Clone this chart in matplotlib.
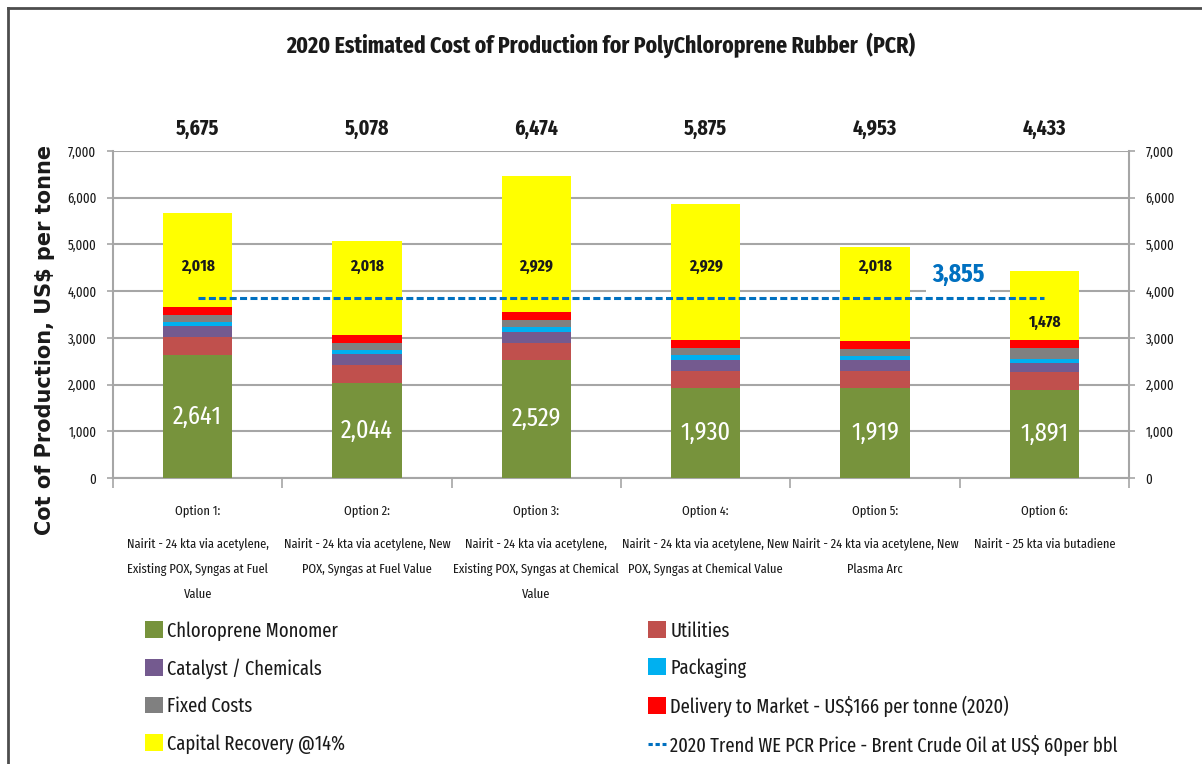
import matplotlib
matplotlib.use("Agg")
import matplotlib.pyplot as plt
import numpy as np
from matplotlib.lines import Line2D
from matplotlib.patches import Patch
from matplotlib.ticker import FuncFormatter, MultipleLocator

# ---------------------------------------------------------------- data
options = ["Option 1:", "Option 2:", "Option 3:", "Option 4:", "Option 5:", "Option 6:"]
descriptions = [
    "Nairit - 24 kta via acetylene,\nExisting POX, Syngas at Fuel\nValue",
    "Nairit - 24 kta via acetylene, New\nPOX, Syngas at Fuel Value",
    "Nairit - 24 kta via acetylene,\nExisting POX, Syngas at Chemical\nValue",
    "Nairit - 24 kta via acetylene, New\nPOX, Syngas at Chemical Value",
    "Nairit - 24 kta via acetylene, New\nPlasma Arc",
    "Nairit - 25 kta via butadiene",
]
monomer = [2641, 2044, 2529, 1930, 1919, 1891]
utilities = [370, 370, 370, 370, 370, 370]
catalyst = [235, 235, 235, 235, 235, 200]
packaging = [90, 90, 90, 90, 90, 95]
fixed_costs = [155, 155, 155, 155, 155, 233]
delivery = [166, 166, 166, 166, 166, 166]
capital = [2018, 2018, 2929, 2929, 2018, 1478]
trend_price = 3855

series_labels = ["Chloroprene Monomer", "Utilities", "Catalyst / Chemicals",
                 "Packaging", "Fixed Costs", "Delivery to Market - US$166 per tonne (2020)",
                 "Capital Recovery @14%"]
trend_label = "2020 Trend WE PCR Price - Brent Crude Oil at US$ 60per bbl"
y_ticks = [0, 1000, 2000, 3000, 4000, 5000, 6000, 7000]

# ---------------------------------------------------------------- style
FONT = ["Fira Sans Extra Condensed", "DejaVu Sans"]
plt.rcParams["font.family"] = FONT
colors = ["#77933C", "#C0504D", "#745A8F", "#00B0F0", "#808080", "#FF0000", "#FFFF00"]
grid_col = "#A6A6A6"
blue = "#0070C0"
ink = "#1a1a1a"

W, H = 1202, 764
fig = plt.figure(figsize=(W / 100, H / 100), dpi=100)
ax = fig.add_axes([113 / W, 1 - 478 / H, (1129 - 113) / W, (478 - 151) / H])

x = np.arange(len(options))
bar_w = 0.41
stack = [monomer, utilities, catalyst, packaging, fixed_costs, delivery, capital]

bottom = np.zeros(len(x))
handles = []
for vals, lab, col in zip(stack, series_labels, colors):
    ax.bar(x, vals, width=bar_w, bottom=bottom, color=col, zorder=3, linewidth=0)
    handles.append(Patch(facecolor=col, label=lab))
    bottom = bottom + np.array(vals)
totals = bottom

# trend price line from the first to the last option
ax.plot(x[[0, -1]], [trend_price, trend_price], color=blue, lw=2.2,
        dashes=(2.3, 1.1), zorder=5)

ax.set_xlim(-0.5, len(x) - 0.5)
ax.set_ylim(y_ticks[0], y_ticks[-1])
ax.yaxis.set_major_locator(MultipleLocator(1000))
fmt = FuncFormatter(lambda v, p: f"{v:,.0f}")
ax.yaxis.set_major_formatter(fmt)
ax.set_axisbelow(True)
ax.yaxis.grid(True, color=grid_col, lw=1.5, zorder=0)

# category boundary ticks
ax.set_xticks(np.arange(-0.5, len(x), 1.0))
ax.set_xticklabels([])
ax.tick_params(axis="x", length=7, color=grid_col, width=1.2)
ax.tick_params(axis="y", length=4, color=grid_col, width=1.2, labelsize=10,
               labelcolor=ink, pad=8)
for s in ["top", "right"]:
    ax.spines[s].set_visible(False)
for s in ["left", "bottom"]:
    ax.spines[s].set_color(grid_col)
    ax.spines[s].set_linewidth(1.5)

ax2 = ax.twinx()
ax2.set_ylim(y_ticks[0], y_ticks[-1])
ax2.yaxis.set_major_locator(MultipleLocator(1000))
ax2.yaxis.set_major_formatter(fmt)
ax2.tick_params(axis="y", length=4, color=grid_col, width=1.2, labelsize=10,
                labelcolor=ink, pad=8)
for s in ["top", "left", "bottom"]:
    ax2.spines[s].set_visible(False)
ax2.spines["right"].set_color(grid_col)
ax2.spines["right"].set_linewidth(1.5)

# totals above the plot
for xi, t in zip(x, totals):
    ax.annotate(f"{t:,.0f}", (xi, y_ticks[-1]), xytext=(0, 16), textcoords="offset points",
                ha="center", va="center", fontsize=15.5, fontweight="bold", color=ink,
                annotation_clip=False)

# monomer values inside the green segments
for xi, v in zip(x, monomer):
    ax.text(xi, v / 2, f"{v:,}", ha="center", va="center", color="white",
            fontsize=19, zorder=6)

# label heights for the capital recovery values
cap_label_y = [4530, 4530, 4530, 4530, 4530, 3340]
for xi, v, ly in zip(x, capital, cap_label_y):
    ax.text(xi, ly, f"{v:,}", ha="center", va="center", color=ink,
            fontsize=12, fontweight="bold", zorder=6)

ax.text(4.49, 4340, f"{trend_price:,}", ha="center", va="center", color=blue,
        fontsize=18.5, fontweight="bold", zorder=6,
        bbox=dict(facecolor="white", edgecolor="none", pad=4))

# category labels
for xi, opt, desc in zip(x, options, descriptions):
    ax.annotate(opt, (xi, 0), xycoords=("data", "axes fraction"), xytext=(0, -23.5),
                textcoords="offset points", ha="center", va="center", fontsize=9.7,
                color=ink, annotation_clip=False)
    ax.annotate(desc, (xi, 0), xycoords=("data", "axes fraction"), xytext=(0, -43),
                textcoords="offset points", ha="center", va="top", fontsize=9.7,
                color=ink, linespacing=2.25, annotation_clip=False)

# title and axis label
fig.text(0.5, 1 - 45 / H, "2020 Estimated Cost of Production for PolyChloroprene Rubber  (PCR)",
         ha="center", va="center", fontsize=17, fontweight="bold", color=ink)
fig.text(45 / W, 1 - 340 / H, "Cot of Production, US$ per tonne", rotation=90,
         ha="center", va="center", fontsize=15, fontweight="bold", family="DejaVu Sans",
         color=ink)

# legend in two columns
trend_handle = Line2D([], [], color=blue, lw=2.2, dashes=(1.4, 0.9), label=trend_label)
left_h = [handles[0], handles[2], handles[4], handles[6]]
right_h = [handles[1], handles[3], handles[5], trend_handle]
common = dict(frameon=False, fontsize=14.5, handlelength=0.9, handleheight=0.9,
              handletextpad=0.2, labelspacing=0.87, borderpad=0, borderaxespad=0,
              labelcolor=ink)
fig.legend(handles=left_h, loc="upper left", bbox_to_anchor=(145 / W, 1 - 621 / H), **common)
fig.legend(handles=right_h, loc="upper left", bbox_to_anchor=(648 / W, 1 - 621 / H), **common)

# outer frame edges
fig.add_artist(Line2D([8 / W, 8 / W], [0, 1 - 8 / H], transform=fig.transFigure,
                      color="#4d4d4d", lw=2))
fig.add_artist(Line2D([8 / W, 1], [1 - 8 / H, 1 - 8 / H], transform=fig.transFigure,
                      color="#4d4d4d", lw=2))

fig.savefig("out.png", dpi=100)
